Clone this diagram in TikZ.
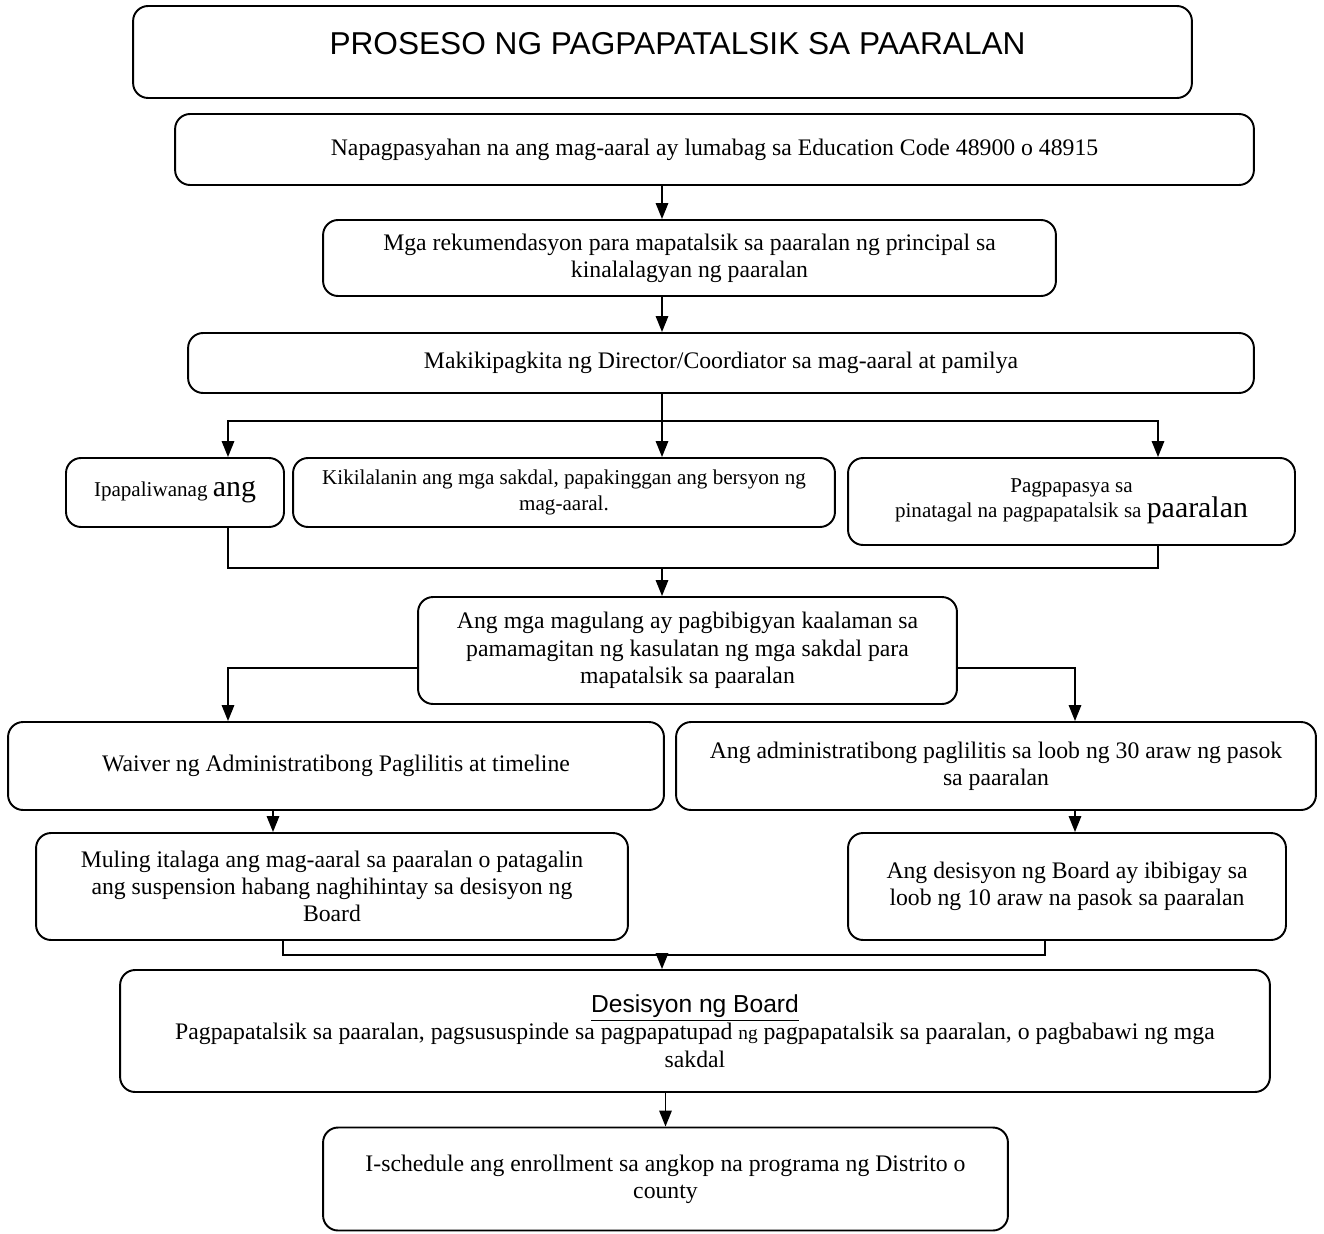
\documentclass[tikz,border=0pt]{standalone}
\usepackage{fontspec}
\setmainfont{Liberation Serif}
\newfontfamily\headfont{Liberation Sans}
\usetikzlibrary{arrows.meta}
\newcommand{\bodysize}{\fontsize{13.5}{15.5}\selectfont}
\newcommand{\rowsize}{\fontsize{12}{14.5}\selectfont}
\newcommand{\bigword}[1]{{\fontsize{17}{18}\selectfont #1}}
\tikzset{
  box/.style={draw, line width=1.1pt, rounded corners=0.3cm, align=center, inner sep=0pt, font=\bodysize},
  arr/.style={line width=1pt, -{Triangle[width=7pt,length=9pt]}},
  wire/.style={line width=1pt}
}

\begin{document}
\begin{tikzpicture}[x=0.02cm,y=-0.02cm]
\useasboundingbox (0,0) rectangle (1324,1233);
% columns used by the connectors
\coordinate (mid) at (662,0);
\coordinate (lx) at (228,0);
\coordinate (rx) at (1158,0);
\coordinate (ax) at (273,0);
\coordinate (bx) at (1075,0);
\coordinate (jl) at (283,0);
\coordinate (jr) at (1045,0);

% boxes
\node[box, minimum width=21.18cm, minimum height=1.84cm,
  label={[font=\headfont\fontsize{18}{20}\selectfont, xshift=0.3cm, yshift=0.16cm]center:PROSESO NG PAGPAPATALSIK SA PAARALAN}] (title) at (662.5,52) {};
\node[box, minimum width=21.58cm, minimum height=1.42cm] (box2) at (714.5,149.5)
  {Napagpasyahan na ang mag-aaral ay lumabag sa Education Code 48900 o 48915};
\node[box, minimum width=14.66cm, minimum height=1.52cm] (box3) at (689.5,258)
  {Mga rekumendasyon para mapatalsik sa paaralan ng principal sa\\ kinalalagyan ng paaralan};
\node[box, minimum width=21.32cm, minimum height=1.2cm] (box4) at (721,363)
  {Makikipagkita ng Director/Coordiator sa mag-aaral at pamilya};
\node[box, font=\rowsize, minimum width=4.36cm, minimum height=1.38cm] (box5a) at (175,492.5)
  {Ipapaliwanag \bigword{ang}};
\node[box, font=\rowsize, minimum width=10.84cm, minimum height=1.38cm] (box5b) at (564,492.5)
  {Kikilalanin ang mga sakdal, papakinggan ang bersyon ng\\ mag-aaral.};
\node[box, font=\rowsize, minimum width=8.94cm, minimum height=1.74cm] (box5c) at (1071.5,501.5)
  {Pagpapasya sa\\ pinatagal na pagpapatalsik sa \bigword{paaralan}};
\node[box, minimum width=10.78cm, minimum height=2.14cm] (box6) at (687.5,650.5)
  {Ang mga magulang ay pagbibigyan kaalaman sa\\ pamamagitan ng kasulatan ng mga sakdal para\\ mapatalsik sa paaralan};
\node[box, minimum width=13.12cm, minimum height=1.76cm] (box7a) at (336,766)
  {Waiver ng Administratibong Paglilitis at timeline};
\node[box, minimum width=12.8cm, minimum height=1.76cm] (box7b) at (996,766)
  {Ang administratibong paglilitis sa loob ng 30 araw ng pasok\\ sa paaralan};
\node[box, minimum width=11.84cm, minimum height=2.14cm] (box8a) at (332,886.5)
  {Muling italaga ang mag-aaral sa paaralan o patagalin\\ ang suspension habang naghihintay sa desisyon ng\\ Board};
\node[box, minimum width=8.76cm, minimum height=2.14cm] (box8b) at (1067,886.5)
  {Ang desisyon ng Board ay ibibigay sa\\ loob ng 10 araw na pasok sa paaralan};
\node[box, minimum width=23cm, minimum height=2.44cm] (box9) at (695,1031)
  {{\headfont\fontsize{14}{16}\selectfont\underline{Desisyon ng Board}}\\
   Pagpapatalsik sa paaralan, pagsususpinde sa pagpapatupad {\fontsize{11}{12}\selectfont ng} pagpapatalsik sa paaralan, o pagbabawi ng mga\\ sakdal};
\node[box, minimum width=13.7cm, minimum height=2.06cm] (box10) at (665.5,1179)
  {I-schedule ang enrollment sa angkop na programa ng Distrito o\\ county};

% connectors
\draw[arr] (box2.south -| mid) -- (box3.north -| mid);
\draw[arr] (box3.south -| mid) -- (box4.north -| mid);
\coordinate (fork) at (662,421);
\draw[wire] (box4.south -| mid) -- (fork);
\draw[arr] (fork) -- (box5b.north -| mid);
\draw[arr] (fork) -| (box5a.north -| lx);
\draw[arr] (fork) -| (box5c.north -| rx);
\coordinate (join) at (662,568);
\draw[wire] (box5a.south -| lx) |- (join) -| (box5c.south -| rx);
\draw[arr] (join) -- (box6.north -| mid);
\draw[arr] ([yshift=-0.35cm]box6.west) -| (box7a.north -| lx);
\draw[arr] ([yshift=-0.35cm]box6.east) -| (box7b.north -| bx);
\draw[arr] (box7a.south -| ax) -- (box8a.north -| ax);
\draw[arr] (box7b.south -| bx) -- (box8b.north -| bx);
\coordinate (join2) at (662,955);
\draw[wire] (box8a.south -| jl) |- (join2) -| (box8b.south -| jr);
\draw[arr] (join2) -- (box9.north -| mid);
\draw[arr] (box9.south -| box10.north) -- (box10.north);
\end{tikzpicture}
\end{document}
